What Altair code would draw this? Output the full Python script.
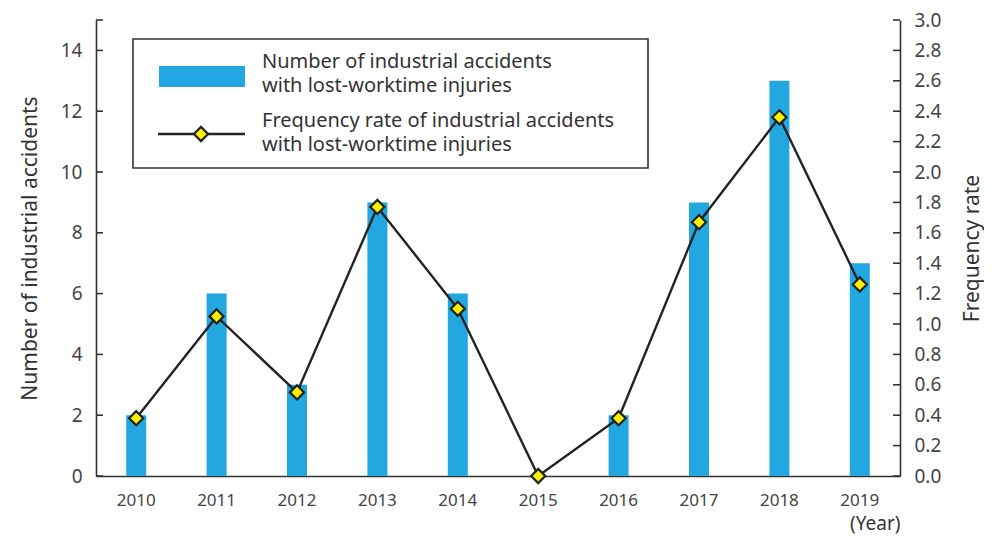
import altair as alt
import pandas as pd

years = ["2010", "2011", "2012", "2013", "2014", "2015", "2016", "2017", "2018", "2019"]
accidents = [2, 6, 3, 9, 6, 0, 2, 9, 13, 7]
freq_rate = [0.38, 1.05, 0.55, 1.77, 1.10, 0.00, 0.38, 1.67, 2.36, 1.26]

left_ticks = [0, 2, 4, 6, 8, 10, 12, 14]
left_tick_marks = [0, 2, 4, 6, 8, 10, 12, 14, 15]
right_ticks = [0.0, 0.2, 0.4, 0.6, 0.8, 1.0, 1.2, 1.4, 1.6, 1.8, 2.0, 2.2, 2.4, 2.6, 2.8, 3.0]

legend_lines = [
    "Number of industrial accidents",
    "with lost-worktime injuries",
    "Frequency rate of industrial accidents",
    "with lost-worktime injuries",
]

FONT = "Noto Sans"
W, H = 804, 456
BAR_COLOR = "#22A7E0"
LINE_COLOR = "#222222"
AXIS_COLOR = "#333333"
LABEL_COLOR = "#444444"

df = pd.DataFrame({"year": years, "count": accidents, "rate": freq_rate})

xenc = alt.X(
    "year:O",
    sort=years,
    scale=alt.Scale(paddingInner=0, paddingOuter=0),
    axis=alt.Axis(
        title="(Year)", titleAnchor="end", titleFontSize=19, titleFontWeight="normal",
        titleColor=AXIS_COLOR, titlePadding=6, titleFont=FONT,
        labelAngle=0, labelFontSize=17, labelColor=LABEL_COLOR, labelPadding=16, labelFont=FONT,
        ticks=False, domainColor=AXIS_COLOR, domainWidth=1.6,
    ),
)

bars = alt.Chart(df).mark_bar(color=BAR_COLOR, size=20).encode(
    x=xenc,
    y=alt.Y(
        "count:Q",
        scale=alt.Scale(domain=[0, 15], nice=False),
        axis=alt.Axis(
            orient="left", values=left_ticks, ticks=False, grid=False,
            domainColor=AXIS_COLOR, domainWidth=1.6,
            labelFontSize=19, labelColor=LABEL_COLOR, labelPadding=14, labelFont=FONT,
            title="Number of industrial accidents", titleFontSize=21, titleFontWeight="normal",
            titleColor=AXIS_COLOR, titlePadding=20, titleFont=FONT,
        ),
    ),
)

lt = alt.Chart(pd.DataFrame({"v": left_tick_marks})).mark_rule(
    color=AXIS_COLOR, strokeWidth=1.6
).encode(
    y=alt.Y("v:Q", scale=alt.Scale(domain=[0, 15], nice=False), axis=None),
    x=alt.value(0), x2=alt.value(7),
)

rate_y = alt.Y(
    "rate:Q",
    scale=alt.Scale(domain=[0, 3], nice=False),
    axis=alt.Axis(
        orient="right", values=right_ticks, format=".1f", ticks=False, grid=False,
        domainColor=AXIS_COLOR, domainWidth=1.6,
        labelFontSize=19, labelColor=LABEL_COLOR, labelPadding=14, labelFont=FONT,
        title="Frequency rate", titleFontSize=21, titleFontWeight="normal", titleAngle=270,
        titleColor=AXIS_COLOR, titlePadding=42, titleFont=FONT,
    ),
)

line = alt.Chart(df).mark_line(color=LINE_COLOR, strokeWidth=2.4).encode(
    x=alt.X("year:O", sort=years), y=rate_y
)
pts = alt.Chart(df).mark_point(
    shape="diamond", filled=True, fill="#FFF000", stroke=LINE_COLOR,
    strokeWidth=2.2, size=200, opacity=1,
).encode(x=alt.X("year:O", sort=years), y=rate_y)
rate_group = alt.layer(line, pts)

rt = alt.Chart(pd.DataFrame({"v": right_ticks})).mark_rule(
    color=AXIS_COLOR, strokeWidth=1.6
).encode(
    y=alt.Y("v:Q", scale=alt.Scale(domain=[0, 3], nice=False), axis=None),
    x=alt.value(W - 7), x2=alt.value(W),
)

# legend
one = pd.DataFrame({"a": [0]})
box = alt.Chart(one).mark_rect(fill="white", stroke=AXIS_COLOR, strokeWidth=1.6).encode(
    x=alt.value(37), x2=alt.value(552), y=alt.value(19), y2=alt.value(148)
)
sw_bar = alt.Chart(one).mark_rect(color=BAR_COLOR).encode(
    x=alt.value(63), x2=alt.value(149), y=alt.value(46), y2=alt.value(67)
)
sw_line = alt.Chart(one).mark_rule(color=LINE_COLOR, strokeWidth=2.4).encode(
    x=alt.value(62), x2=alt.value(149), y=alt.value(114)
)
sw_pt = alt.Chart(one).mark_point(
    shape="diamond", filled=True, fill="#FFF000", stroke=LINE_COLOR,
    strokeWidth=2.2, size=200, opacity=1,
).encode(x=alt.value(105), y=alt.value(114))
leg_df = pd.DataFrame({"t": legend_lines, "ypos": [48, 72, 107, 131]})
leg_text = alt.Chart(leg_df).mark_text(
    align="left", baseline="alphabetic", fontSize=20, font=FONT, color=AXIS_COLOR,
).encode(text="t:N", x=alt.value(166), y=alt.Y("ypos:Q", scale=None, axis=None))

chart = alt.layer(
    bars, lt, rate_group, rt, box, sw_bar, sw_line, sw_pt, leg_text
).resolve_scale(y="independent").properties(
    width=W, height=H,
    autosize=alt.AutoSizeParams(type="none"),
    padding={"left": 88, "top": 12, "right": 84, "bottom": 59},
).configure_view(stroke=None)

chart.save("out.html", embed_options={"renderer": "svg", "actions": False})
